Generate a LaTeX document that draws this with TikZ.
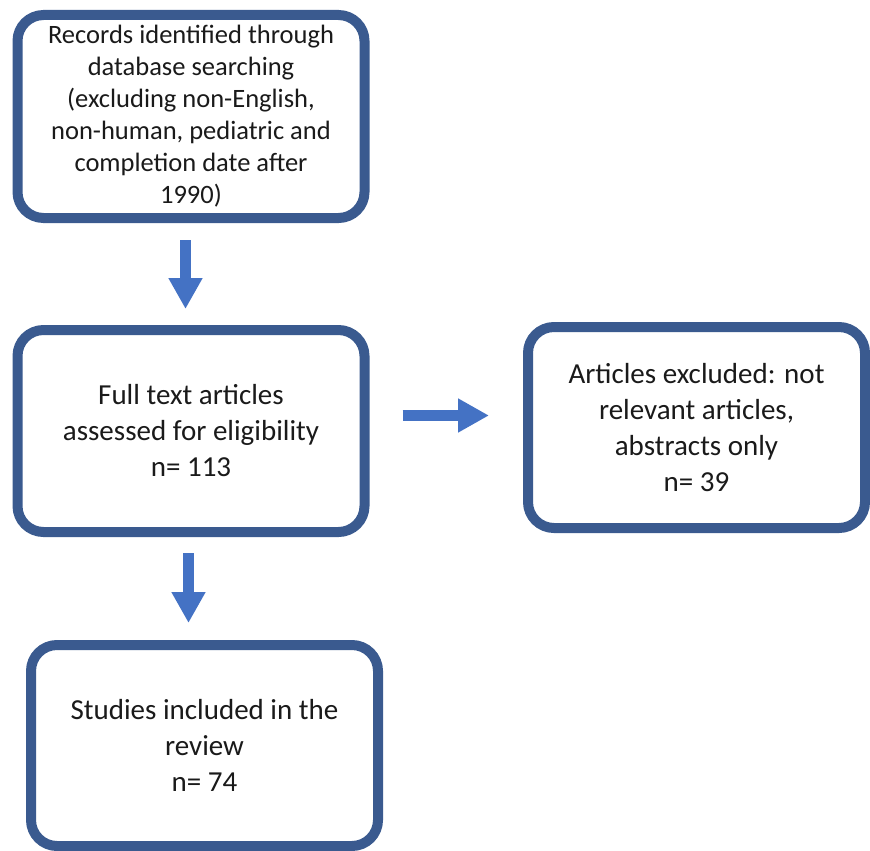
\documentclass[tikz,border=0pt]{standalone}
\usepackage{fontspec}
\setmainfont{Carlito}
\usetikzlibrary{arrows.meta}
\definecolor{boxblue}{HTML}{3A5A8F}
\definecolor{arrblue}{HTML}{4472C4}
\definecolor{txt}{HTML}{1A1A1A}
\tikzset{
  flowbox/.style={draw=boxblue, line width=10pt, rounded corners=26pt, rectangle,
    fill=white, inner sep=0pt, align=center, text=txt},
  blockarrow/.style={draw=arrblue, line width=11pt,
    -{Triangle[width=32pt,length=31pt]}, arrblue},
  bigtext/.style={font=\fontsize{29}{36}\selectfont},
  smalltext/.style={font=\fontsize{26.5}{32}\selectfont}
}
\begin{document}
\begin{tikzpicture}[x=1pt,y=-1pt]
\useasboundingbox (0,0) rectangle (870,851);
\node[flowbox, smalltext, minimum width=347pt, minimum height=203pt] (b1) at (191,116.5)
  {Records identified through\\database searching\\(excluding non-English,\\non-human, pediatric and\\completion date after\\1990)};
\node[flowbox, bigtext, minimum width=347pt, minimum height=202pt] (b2) at (191,431)
  {Full text articles\\assessed for eligibility\\n= 113};
\node[flowbox, bigtext, minimum width=337pt, minimum height=201pt] (b3) at (696.5,427.5)
  {Articles excluded: not\\relevant articles,\\abstracts only\\n= 39};
\node[flowbox, bigtext, minimum width=347pt, minimum height=201pt] (b4) at (204.5,745.5)
  {Studies included in the\\review\\n= 74};
\draw[blockarrow] ([xshift=-5.5pt,yshift=-17pt]b1.south) -- ([xshift=-5.5pt,yshift=16pt]b2.north);
\draw[blockarrow] ([xshift=-2.5pt,yshift=-16pt]b2.south) -- ([xshift=-16pt,yshift=17pt]b4.north);
\draw[blockarrow] ([xshift=33pt,yshift=15.5pt]b2.east) -- ([xshift=-34pt,yshift=15.5pt]b2.east -| b3.west);
\end{tikzpicture}
\end{document}
